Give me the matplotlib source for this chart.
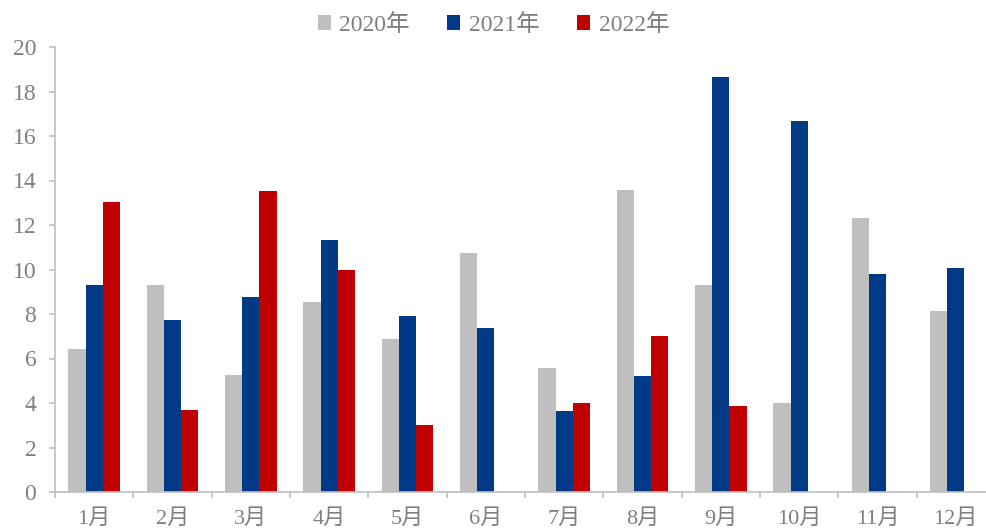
import matplotlib
matplotlib.use("Agg")
import matplotlib.pyplot as plt
import numpy as np

months = ["1月", "2月", "3月", "4月", "5月", "6月", "7月", "8月", "9月", "10月", "11月", "12月"]
s2020 = [6.43, 9.3, 5.26, 8.54, 6.88, 10.74, 5.57, 13.57, 9.3, 4.0, 12.31, 8.13]
s2021 = [9.3, 7.73, 8.76, 11.33, 7.91, 7.37, 3.64, 5.21, 18.65, 16.67, 9.8, 10.07]
s2022 = [13.03, 3.69, 13.53, 9.98, 3.01, np.nan, 4.0, 7.01, 3.87, np.nan, np.nan, np.nan]
labels = ["2020年", "2021年", "2022年"]
colors = ["#BFBFBF", "#003A87", "#C00000"]

plt.rcParams['font.family'] = ['Liberation Serif', 'Noto Sans CJK SC']
txt = "#7F7F7F"

fig = plt.figure(figsize=(9.87, 5.32), dpi=100)
ax = fig.add_axes([55/987, 40/532, 940/987, 445/532])

x = np.arange(len(months))
w = 0.22
for i, (vals, lab, c) in enumerate(zip([s2020, s2021, s2022], labels, colors)):
    ax.bar(x + (i - 1) * w, vals, width=w, color=c, label=lab, zorder=2)

ax.set_xlim(-0.5, len(months) - 0.5)
ax.set_ylim(0, 20)
ax.set_yticks(np.arange(0, 21, 2))
ax.set_xticks(x)
ax.set_xticklabels(months)
ax.set_xticks(np.arange(-0.5, len(months), 1), minor=True)
ax.tick_params(axis='x', which='major', length=0, pad=12, labelsize=16, labelcolor=txt)
ax.tick_params(axis='x', which='minor', length=4.5, color="#BFBFBF", width=1.2)
ax.tick_params(axis='y', length=4.5, color="#BFBFBF", width=1.2, labelsize=17, labelcolor=txt, pad=9)

for s in ['top', 'right']:
    ax.spines[s].set_visible(False)
for s in ['left', 'bottom']:
    ax.spines[s].set_color("#BFBFBF")
    ax.spines[s].set_linewidth(1.2)

leg = fig.legend(loc='upper center', bbox_to_anchor=(0.5, 1.014), ncol=3, frameon=False,
                 fontsize=17, handlelength=0.55, handleheight=0.55, handletextpad=0.35,
                 columnspacing=1.6, labelcolor=txt)

fig.savefig("out.png", dpi=100)
